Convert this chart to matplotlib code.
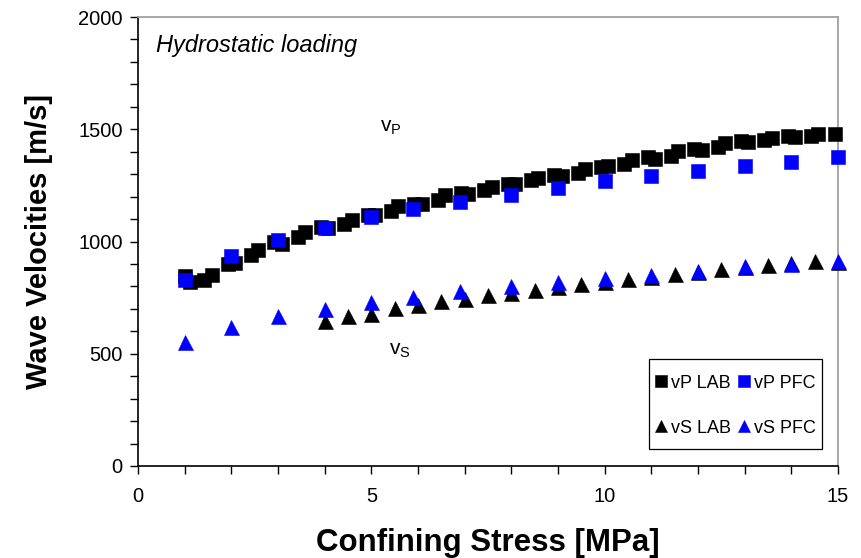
import matplotlib
matplotlib.use("Agg")
import matplotlib.pyplot as plt
from matplotlib.ticker import MultipleLocator
from matplotlib.path import Path

plt.rcParams['font.family'] = ['Liberation Sans', 'DejaVu Sans']
plt.rcParams['mathtext.fontset'] = 'custom'
plt.rcParams['mathtext.rm'] = 'Liberation Sans'

# ---- data ----
vp_lab_x = [1.00, 1.12, 1.42, 1.58, 1.92, 2.08, 2.42, 2.58, 2.92, 3.08, 3.42, 3.58,
            3.92, 4.08, 4.42, 4.58, 4.92, 5.08, 5.42, 5.58, 5.92, 6.08, 6.42, 6.58,
            6.92, 7.08, 7.42, 7.58, 7.92, 8.08, 8.42, 8.58, 8.92, 9.08, 9.42, 9.58,
            9.92, 10.08, 10.42, 10.58, 10.92, 11.08, 11.42, 11.58, 11.92, 12.08,
            12.42, 12.58, 12.92, 13.08, 13.42, 13.58, 13.92, 14.08, 14.42, 14.58, 14.93]
vp_lab_y = [846, 820, 829, 853, 898, 903, 940, 962, 996, 991, 1018, 1042,
            1065, 1060, 1080, 1098, 1120, 1118, 1138, 1156, 1168, 1167, 1187, 1205,
            1215, 1210, 1229, 1245, 1258, 1254, 1272, 1285, 1298, 1294, 1307, 1321,
            1333, 1338, 1345, 1361, 1376, 1367, 1383, 1401, 1414, 1408,
            1421, 1437, 1448, 1443, 1452, 1463, 1470, 1466, 1472, 1477, 1481]

pfc_x = [1, 2, 3, 4, 5, 5.9, 6.9, 8, 9, 10, 11, 12, 13, 14, 15]
vp_pfc_y = [829, 935, 1007, 1060, 1107, 1143, 1178, 1209, 1238, 1270, 1292, 1314, 1336, 1356, 1376]

vs_lab_x = [4, 4.5, 5, 5.5, 6, 6.5, 7, 7.5, 8, 8.5, 9, 9.5, 10, 10.5, 11, 11.5,
            12, 12.5, 13, 13.5, 14, 14.5, 15]
vs_lab_y = [648, 666, 679, 702, 715, 733, 745, 762, 769, 786, 797, 811, 820, 833,
            842, 857, 864, 877, 885, 895, 906, 911, 908]

vs_pfc_y = [552, 619, 668, 699, 730, 755, 780, 802, 820, 837, 853, 870, 889, 900, 911]

labels = ['vP LAB', 'vP PFC', 'vS LAB', 'vS PFC']

# ---- figure ----
fig = plt.figure(figsize=(8.61, 5.58), dpi=100)
ax = fig.add_axes([0.1603, 0.1649, 0.8130, 0.8046])

ms_sq = 10.4
ms_tr = 10.8
h1, = ax.plot(vp_lab_x, vp_lab_y, ls='none', marker='s', ms=ms_sq, color='black',
              mec='black', mew=0.4, clip_on=False, label=labels[0], zorder=3)
h2, = ax.plot(pfc_x, vp_pfc_y, ls='none', marker='s', ms=ms_sq, color='#0000ff',
              mec='#0000ff', mew=0.4, clip_on=False, label=labels[1], zorder=4)
h3, = ax.plot(vs_lab_x, vs_lab_y, ls='none', marker='^', ms=ms_tr, color='black',
              mec='black', mew=0.4, clip_on=False, label=labels[2], zorder=3)
h4, = ax.plot(pfc_x, vs_pfc_y, ls='none', marker='^', ms=ms_tr, color='#0000ff',
              mec='#0000ff', mew=0.4, clip_on=False, label=labels[3], zorder=4)

ax.set_xlim(0, 15)
ax.set_ylim(0, 2000)
ax.xaxis.set_major_locator(MultipleLocator(5))
ax.xaxis.set_minor_locator(MultipleLocator(1))
ax.yaxis.set_major_locator(MultipleLocator(500))
ax.yaxis.set_minor_locator(MultipleLocator(100))
ax.tick_params(axis='both', which='both', direction='out', length=6, width=1, color='black')
ax.tick_params(axis='x', which='major', labelsize=14.5, pad=9)
ax.tick_params(axis='y', which='major', labelsize=14.5, pad=5)

for s in ['left', 'bottom']:
    ax.spines[s].set_color('black')
    ax.spines[s].set_linewidth(1.2)
for s in ['top', 'right']:
    ax.spines[s].set_color('#a0a0a0')
    ax.spines[s].set_linewidth(1.3)

ax.set_xlabel('Confining Stress [MPa]', fontsize=22.5, fontweight='bold', labelpad=16)
ax.set_ylabel('Wave Velocities [m/s]', fontsize=21, fontweight='bold', labelpad=18)

ax.text(0.025, 0.962, 'Hydrostatic loading', transform=ax.transAxes, fontsize=17,
        style='italic', ha='left', va='top')
ax.text(5.19, 1488, r'$\mathregular{v_P}$', fontsize=15, ha='left', va='baseline')
ax.text(5.38, 494, r'$\mathregular{v_S}$', fontsize=15, ha='left', va='baseline')

leg = ax.legend([h1, h3, h2, h4], [labels[0], labels[2], labels[1], labels[3]],
                ncol=2, loc='lower right', bbox_to_anchor=(0.977, 0.051),
                borderaxespad=0, fontsize=13, markerscale=0.82,
                handlelength=0.6, handletextpad=0.25,
                columnspacing=0.4, labelspacing=1.55, borderpad=0.35,
                fancybox=False, framealpha=1)


def tall_box(x0, y0, width, height, mutation_size):
    # frame with extra vertical padding (more on top than bottom)
    top = 0.55 * mutation_size
    bot = 0.33 * mutation_size
    verts = [(x0, y0 - bot), (x0 + width, y0 - bot), (x0 + width, y0 + height + top),
             (x0, y0 + height + top), (x0, y0 - bot)]
    codes = [Path.MOVETO, Path.LINETO, Path.LINETO, Path.LINETO, Path.CLOSEPOLY]
    return Path(verts, codes)


leg.get_frame().set_boxstyle(tall_box)
leg.get_frame().set_edgecolor('black')
leg.get_frame().set_linewidth(0.9)

fig.savefig('out.png', dpi=100)
